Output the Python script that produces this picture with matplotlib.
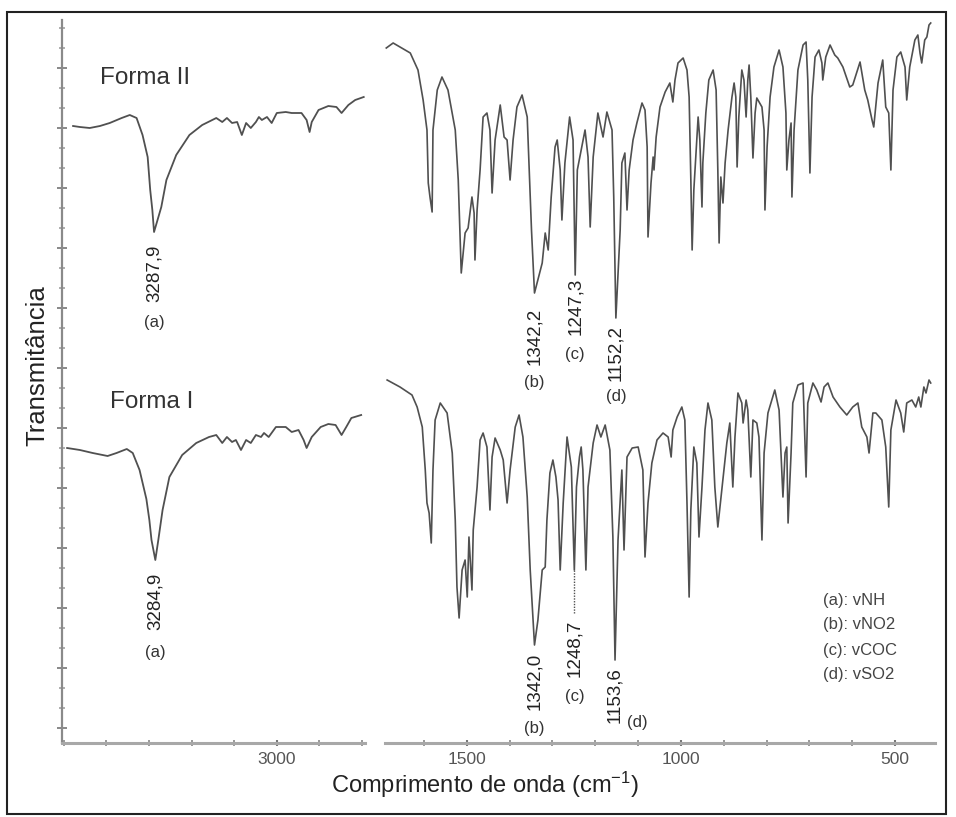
import matplotlib
matplotlib.use("Agg")
import matplotlib.pyplot as plt
from matplotlib.patches import Rectangle
import numpy as np

plt.rcParams['font.family'] = ['Liberation Sans', 'DejaVu Sans']
plt.rcParams['mathtext.default'] = 'regular'

# ---------------- data (wavenumber cm-1, transmittance a.u.) ----------------
wn_II_L = [3478, 3462, 3439, 3415, 3392, 3364, 3345, 3329, 3315, 3303, 3297, 3292, 3288,
           3271, 3259, 3236, 3205, 3175, 3142, 3128, 3117, 3105, 3093, 3082, 3072, 3061,
           3049, 3042, 3035, 3023, 3012, 3000, 2979, 2965, 2942, 2930, 2923, 2918, 2902,
           2879, 2860, 2848, 2832, 2816, 2796]
T_II_L = [61.7, 61.6, 61.5, 61.7, 62.0, 62.5, 62.8, 62.5, 60.8, 58.6, 55.3, 53.3, 51.1,
          53.6, 56.3, 58.8, 60.8, 61.8, 62.5, 62.1, 62.5, 62.0, 62.1, 60.8, 62.0, 61.5,
          62.1, 62.6, 62.3, 62.6, 62.0, 63.0, 63.1, 63.0, 63.0, 62.3, 61.1, 62.1, 63.3,
          63.7, 63.6, 63.0, 63.8, 64.3, 64.6]

wn_I_L = [3492, 3462, 3432, 3397, 3376, 3352, 3338, 3322, 3306, 3299, 3294, 3285, 3278,
          3268, 3252, 3222, 3189, 3159, 3142, 3128, 3117, 3105, 3096, 3084, 3072, 3061,
          3049, 3037, 3030, 3019, 3002, 2979, 2965, 2949, 2937, 2930, 2918, 2897, 2879,
          2862, 2848, 2837, 2825, 2802]
T_I_L = [29.5, 29.3, 29.0, 28.7, 29.0, 29.4, 29.0, 27.3, 24.4, 22.3, 20.3, 18.3, 20.3,
         23.3, 26.6, 28.8, 30.0, 30.6, 30.8, 30.0, 30.6, 30.1, 30.3, 29.3, 30.3, 30.0,
         30.8, 30.6, 31.0, 30.6, 31.6, 31.6, 31.1, 31.3, 30.3, 29.5, 30.6, 31.6, 31.9,
         31.8, 30.8, 31.6, 32.5, 32.8]

wn_II_R = [1688, 1672, 1632, 1614, 1602, 1593, 1590, 1586, 1581, 1579, 1569, 1558, 1544,
           1527, 1520, 1513, 1504, 1497, 1488, 1483, 1481, 1476, 1469, 1462, 1453, 1446,
           1441, 1434, 1422, 1413, 1406, 1399, 1392, 1383, 1371, 1359, 1355, 1349, 1342,
           1324, 1317, 1310, 1303, 1294, 1289, 1282, 1278, 1271, 1260, 1252, 1247, 1242,
           1224, 1217, 1212, 1205, 1194, 1182, 1173, 1161, 1157, 1152, 1142, 1138, 1131,
           1126, 1121, 1112, 1103, 1091, 1084, 1079, 1077, 1070, 1065, 1063, 1058, 1049,
           1037, 1026, 1019, 1014, 1007, 995, 986, 981, 977, 974, 970, 963, 960, 956, 951,
           949, 942, 935, 925, 918, 914, 911, 907, 902, 897, 890, 881, 876, 872, 869, 865,
           858, 853, 848, 844, 841, 837, 832, 827, 823, 811, 806, 804, 799, 792, 783, 771,
           762, 755, 753, 748, 743, 741, 736, 727, 715, 708, 704, 699, 694, 687, 678, 671,
           669, 662, 652, 641, 634, 622, 606, 599, 582, 571, 564, 554, 550, 540, 529, 522,
           515, 510, 505, 496, 487, 477, 473, 466, 454, 447, 442, 438, 431, 426, 421, 417]
T_II_R = [69.5, 70.0, 69.0, 67.3, 64.3, 61.3, 56.0, 54.6, 53.1, 61.3, 65.3, 66.6, 65.3,
          61.3, 56.3, 47.0, 51.0, 51.5, 54.6, 53.0, 48.3, 53.3, 57.3, 62.6, 63.0, 61.3,
          55.0, 60.3, 63.8, 60.6, 60.3, 56.3, 60.3, 63.6, 64.8, 62.6, 58.0, 51.3, 45.0,
          48.0, 51.0, 49.3, 54.6, 59.6, 60.3, 57.3, 52.3, 58.0, 62.6, 60.3, 46.8, 57.3,
          61.3, 58.6, 51.6, 58.6, 63.0, 60.6, 63.1, 61.3, 54.6, 42.5, 51.3, 58.0, 59.0,
          53.3, 57.3, 60.3, 62.0, 64.0, 63.3, 59.6, 50.6, 56.0, 58.6, 57.3, 60.6, 63.6,
          65.1, 66.0, 64.1, 66.3, 68.0, 68.5, 67.3, 64.6, 56.3, 49.3, 55.3, 60.3, 62.6, 60.3, 53.6,
          58.0, 63.0, 66.3, 67.3, 65.3, 57.3, 50.0, 56.6, 54.0, 58.0, 61.3, 64.6, 66.0, 64.6, 57.6, 62.6,
          67.3, 66.3, 62.6, 66.3, 67.8, 64.6, 58.5, 63.0, 64.5, 63.6, 61.3, 53.3, 59.6, 64.6, 67.6, 69.3,
          67.6, 63.0, 57.3, 60.3, 62.0, 54.6, 61.3, 67.3, 69.8, 70.1, 66.3, 57.0, 64.6, 68.6, 69.3, 68.0,
          66.3, 68.6, 69.8, 68.8, 68.5, 67.6, 65.6, 65.8, 68.1, 65.3, 64.3, 62.3, 61.6, 66.0, 68.3, 63.6,
          63.0, 57.3, 65.3, 68.6, 69.1, 67.6, 64.3, 67.6, 70.3, 70.8, 69.0, 68.0, 70.3, 70.6, 71.8, 72.0]

wn_I_R = [1686, 1656, 1628, 1616, 1604, 1597, 1593, 1588, 1583, 1579, 1574, 1562, 1546,
          1534, 1527, 1523, 1518, 1511, 1504, 1499, 1495, 1488, 1485, 1476, 1469, 1462,
          1453, 1446, 1441, 1434, 1422, 1415, 1406, 1399, 1387, 1378, 1369, 1359, 1352,
          1342, 1334, 1324, 1317, 1313, 1306, 1299, 1292, 1287, 1282, 1275, 1266, 1256,
          1249, 1244, 1237, 1233, 1229, 1222, 1217, 1205, 1196, 1187, 1177, 1166, 1159,
          1154, 1147, 1138, 1133, 1126, 1114, 1100, 1089, 1084, 1077, 1068, 1056, 1042,
          1030, 1023, 1019, 1009, 998, 991, 986, 981, 977, 970, 963, 958, 951, 944, 937,
          928, 921, 914, 904, 893, 886, 879, 874, 867, 858, 855, 848, 844, 837, 832, 823,
          818, 811, 806, 797, 781, 771, 762, 757, 753, 750, 743, 739, 727, 715, 708, 704,
          692, 683, 673, 666, 657, 645, 629, 613, 599, 587, 578, 566, 561, 552, 545, 531,
          522, 515, 510, 498, 487, 480, 473, 461, 452, 445, 440, 433, 428, 421, 417]
T_I_R = [36.3, 35.6, 34.8, 33.6, 31.6, 27.3, 24.0, 23.0, 20.0, 27.3, 32.3, 34.0, 33.0,
         29.0, 22.3, 15.6, 12.5, 17.3, 18.3, 14.6, 20.6, 15.3, 21.3, 25.6, 30.3, 31.0,
         29.6, 23.3, 28.6, 30.5, 29.3, 28.3, 24.0, 27.3, 31.6, 32.8, 30.6, 24.6, 17.3,
         9.8, 12.3, 17.3, 17.6, 22.3, 27.0, 28.3, 26.6, 24.3, 17.3, 24.0, 30.6, 27.6,
         17.3, 25.6, 28.6, 29.6, 27.3, 17.3, 25.6, 30.0, 31.8, 30.6, 31.8, 29.3, 20.6,
         8.3, 20.3, 27.3, 19.3, 28.6, 29.5, 29.6, 27.3, 18.6, 24.0, 28.0, 30.3, 31.0,
         30.6, 28.6, 31.3, 32.6, 33.6, 32.3, 24.0, 14.6, 23.3, 29.6, 28.0, 20.6, 25.6, 31.3, 34.0,
         32.3, 25.6, 21.6, 25.6, 30.0, 32.0, 25.6, 30.6, 35.0, 34.0, 32.0, 34.3, 33.3, 26.6, 32.3, 32.0,
         30.6, 20.3, 29.0, 33.0, 35.3, 33.3, 24.6, 29.0, 29.6, 22.0, 29.0, 34.0, 35.8, 36.0, 26.6, 34.0,
         36.0, 35.3, 34.1, 35.6, 36.0, 34.6, 33.6, 32.8, 33.6, 34.0, 31.6, 30.6, 29.0, 33.0, 33.0, 32.3,
         29.6, 23.6, 31.3, 34.3, 33.0, 31.1, 34.0, 34.3, 33.6, 34.6, 33.6, 35.6, 35.0, 36.3, 36.0]

# peak annotations: (panel, wavenumber, label text, label top, letter, letter x, letter y)
peaks_II = [("L", 3288, "3287,9", 49.8, "(a)", 3288, 42.1),
            ("R", 1342, "1342,2", 43.5, "(b)", 1342, 36.0),
            ("R", 1247, "1247,3", 46.5, "(c)", 1247, 38.8),
            ("R", 1152, "1152,2", 41.8, "(d)", 1152, 34.6)]
peaks_I = [("L", 3285, "3284,9", 17.0, "(a)", 3285, 9.1),
           ("R", 1342, "1342,0", 9.0, "(b)", 1342, 1.5),
           ("R", 1249, "1248,7", 12.3, "(c)", 1249, 4.6),
           ("R", 1154, "1153,6", 7.6, "(d)", 1103, 2.0)]
legend_lines = ["(a): vNH", "(b): vNO2", "(c): vCOC", "(d): vSO2"]

# ---------------- figure ----------------
W, H = 956, 817
fig = plt.figure(figsize=(W / 100, H / 100), dpi=100)
fig.patch.set_facecolor("white")

ybot, ytop = 743, 20
axL = fig.add_axes([62 / W, (H - ybot) / H, 303 / W, (ybot - ytop) / H])
axR = fig.add_axes([385 / W, (H - ybot) / H, 550 / W, (ybot - ytop) / H])

line_c = "#505050"
for ax in (axL, axR):
    ax.set_ylim(0, 72.3)
    for s in ("top", "right"):
        ax.spines[s].set_visible(False)
    ax.spines["bottom"].set_color("#a8a8a8")
    ax.spines["bottom"].set_linewidth(2.2)
    ax.patch.set_alpha(0)
axR.spines["left"].set_visible(False)
axL.spines["left"].set_color("#8a8a8a")
axL.spines["left"].set_linewidth(1.6)

axL.set_xlim(3504, 2793)
axR.set_xlim(1691, 407)

axL.plot(wn_II_L, T_II_L, color=line_c, lw=1.3)
axL.plot(wn_I_L, T_I_L, color=line_c, lw=1.3)
axR.plot(wn_II_R, T_II_R, color=line_c, lw=1.2)
axR.plot(wn_I_R, T_I_R, color=line_c, lw=1.2)

# x ticks
axL.set_xticks([3000])
axL.set_xticks([w for w in range(3500, 2799, -100) if w != 3000], minor=True)
axR.set_xticks([1500, 1000, 500])
axR.set_xticks([w for w in range(1600, 400, -100) if w not in (1500, 1000, 500)], minor=True)
for ax in (axL, axR):
    ax.tick_params(axis="x", which="major", direction="inout", length=5, width=1.5,
                   color="#777777", labelsize=12.5, labelcolor="#555555", pad=4)
    ax.tick_params(axis="x", which="minor", direction="inout", length=4, width=1.2,
                   color="#888888")
axR.tick_params(axis="y", left=False, labelleft=False, which="both")

# y ticks (no labels)
axL.set_yticks(np.arange(1.5, 72.3, 6.0))
axL.set_yticks(np.arange(1.5, 72.3, 2.0), minor=True)
axL.tick_params(axis="y", which="major", direction="inout", length=7, width=1.4,
                color="#888888", labelleft=False)
axL.tick_params(axis="y", which="minor", direction="inout", length=5, width=1.1,
                color="#999999")

# form labels
axL.text(3415, 66.5, "Forma II", fontsize=17.5, color="#333333", ha="left", va="center")
axL.text(3392, 34.1, "Forma I", fontsize=17.5, color="#333333", ha="left", va="center")

# peak labels
for peaks in (peaks_II, peaks_I):
    for panel, wn, txt, ytop_lab, letter, lx, ly in peaks:
        ax = axL if panel == "L" else axR
        ax.text(wn, ytop_lab, txt, rotation=90, ha="center", va="top",
                fontsize=13.5, color="#222222")
        ax.text(lx, ly, letter, ha="center", va="center", fontsize=12, color="#333333")

# dotted leader for 1248,7
axR.plot([1249, 1249], [17.3, 13.0], color=line_c, lw=1.0, ls=(0, (1, 1)))

# legend text
for i, s in enumerate(legend_lines):
    fig.text(823 / W, 1 - (600 + 25 * i) / H, s, fontsize=12, color="#444444",
             ha="left", va="center")

# axis titles
fig.text(485 / W, 1 - 785 / H, "Comprimento de onda (cm$^{-1}$)", fontsize=17,
         color="#222222", ha="center", va="center")
fig.text(37 / W, 1 - 366 / H, "Transmitância", fontsize=18.5, rotation=90,
         color="#222222", ha="center", va="center")

# outer frame
fig.patches.append(Rectangle((7 / W, 3 / H), 939 / W, 802 / H, transform=fig.transFigure,
                             fill=False, edgecolor="#222222", linewidth=1.5))

fig.savefig("out.png", dpi=100, facecolor="white")
